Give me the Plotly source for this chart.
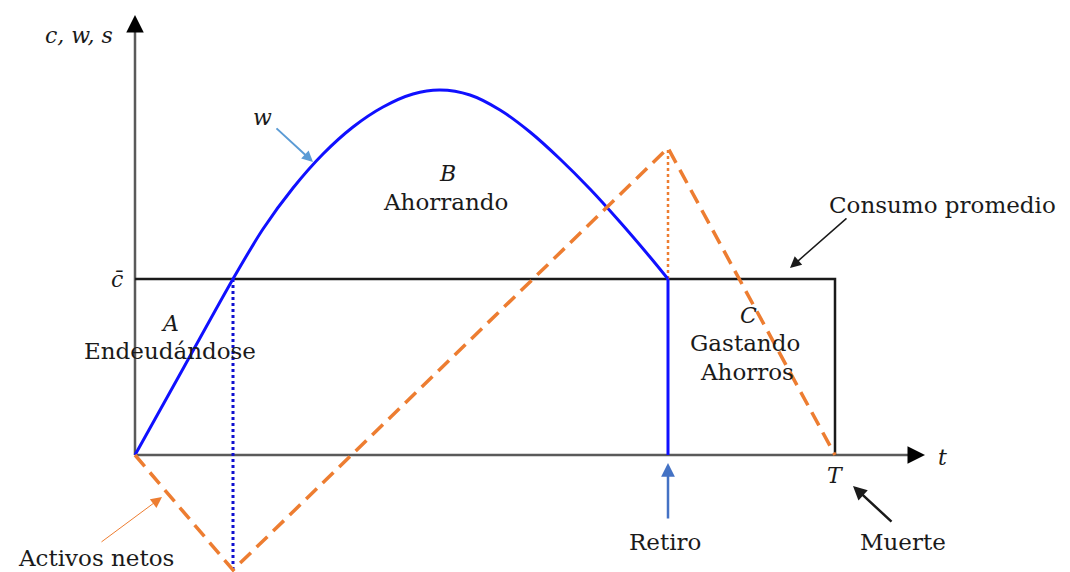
import plotly.graph_objects as go

# ---- data ----
T = 70.0          # death
R = 53.3          # retirement
c_bar = 17.6      # average consumption
t_cross = 9.8     # where w crosses c_bar

w_t = [0, 4.9, 9.8, 12.8, 15.8, 18.8, 21.8, 24.8, 27.8, 30.5,
       33.5, 36.5, 39.5, 42.5, 45.5, 48.5, 51.5, 53.3]
w_vals = [0, 8.8, 17.6, 22.6, 26.7, 30.1, 32.8, 34.8, 36.1, 36.5,
          36.0, 34.5, 32.3, 29.6, 26.6, 23.3, 19.8, 17.6]

assets_t = [0, 9.8, 53.3, 70.0]
assets_vals = [0, -11.5, 30.7, 0]

cons_t = [0, T, T]
cons_vals = [c_bar, c_bar, 0]

y_axis_top = 44.0
x_axis_end = 79.0

SERIF = "DejaVu Serif"
BLUE = "#1010ff"
ORANGE = "#ed7d31"
AXIS = "#5a5a5a"

fig = go.Figure()

# axes lines
fig.add_trace(go.Scatter(x=[0, 0], y=[0, y_axis_top - 1.5], mode="lines",
                         line=dict(color=AXIS, width=2.5), hoverinfo="skip"))
fig.add_trace(go.Scatter(x=[0, x_axis_end - 1.5], y=[0, 0], mode="lines",
                         line=dict(color=AXIS, width=2.5), hoverinfo="skip"))

# consumption
fig.add_trace(go.Scatter(x=cons_t, y=cons_vals, mode="lines",
                         line=dict(color="#1a1a1a", width=2.5), hoverinfo="skip"))

# blue dotted vertical at crossing
fig.add_trace(go.Scatter(x=[t_cross, t_cross], y=[c_bar, min(assets_vals)], mode="lines",
                         line=dict(color="#1010d0", width=3, dash="dot"), hoverinfo="skip"))
# orange dotted vertical at retirement
fig.add_trace(go.Scatter(x=[R, R], y=[c_bar, max(assets_vals)], mode="lines",
                         line=dict(color=ORANGE, width=2.5, dash="dot"), hoverinfo="skip"))
# blue solid vertical at retirement
fig.add_trace(go.Scatter(x=[R, R], y=[c_bar, 0], mode="lines",
                         line=dict(color=BLUE, width=3), hoverinfo="skip"))

# wage curve
fig.add_trace(go.Scatter(x=w_t, y=w_vals, mode="lines",
                         line=dict(color=BLUE, width=3, shape="spline", smoothing=0.9),
                         hoverinfo="skip"))

# net assets
fig.add_trace(go.Scatter(x=assets_t, y=assets_vals, mode="lines",
                         line=dict(color=ORANGE, width=3.5, dash="15px,8px"),
                         hoverinfo="skip"))

ann = []

def arrow(x, y, ax, ay, color, width, size, head=2):
    ann.append(dict(x=x, y=y, ax=ax, ay=ay, xref="x", yref="y", axref="x", ayref="y",
                    text="", showarrow=True, arrowhead=head, arrowsize=size,
                    arrowwidth=width, arrowcolor=color, standoff=0, startstandoff=0))

def label(x, y, text, size=23, italic=False):
    t = f"<i>{text}</i>" if italic else text
    ann.append(dict(x=x, y=y, xref="x", yref="y", text=t, showarrow=False,
                    font=dict(family=SERIF, size=size, color="#1a1a1a"),
                    xanchor="center", yanchor="middle"))

# axis arrow heads
arrow(0, y_axis_top, 0, y_axis_top - 1.6, "black", 2.5, 1.4)
arrow(x_axis_end, 0, x_axis_end - 1.6, 0, "black", 2.5, 1.4)

# pointer arrows
arrow(17.8, 29.3, 14.0, 32.8, "#5b9bd5", 2, 1.1)
arrow(65.5, 18.7, 71.3, 23.8, "#1a1a1a", 1.5, 1.5)
arrow(R, -0.8, R, -6.5, "#4472c4", 2.5, 1.1)
arrow(71.8, -3.1, 75.8, -6.8, "#1a1a1a", 2.5, 1.1)
arrow(2.7, -4.2, -3.5, -8.8, ORANGE, 1, 2.2)

# labels
label(-5.6, 42.0, "c, w, s", size=22, italic=True)
label(12.7, 33.8, "w", size=22, italic=True)
label(31.2, 28.2, "B", size=22, italic=True)
label(31.0, 25.3, "Ahorrando")
label(80.7, 25.0, "Consumo promedio")
label(-1.8, 17.6, "c\u0304", size=22, italic=True)
label(3.5, 13.2, "A", size=22, italic=True)
label(3.5, 10.4, "Endeudándose")
label(61.3, 14.0, "C", size=22, italic=True)
label(61.0, 11.2, "Gastando")
label(61.2, 8.3, "Ahorros")
label(T, -2.0, "T", size=22, italic=True)
label(80.7, -0.2, "t", size=22, italic=True)
label(53.0, -8.7, "Retiro")
label(76.8, -8.7, "Muerte")
label(-3.9, -10.3, "Activos netos")

# the page adds an 8px body margin: ranges are offset so the drawing lands on the reference pixels
fig.update_layout(
    width=1070, height=572,
    margin=dict(l=0, r=0, t=0, b=0),
    paper_bgcolor="white", plot_bgcolor="white",
    showlegend=False,
    xaxis=dict(range=[-12.7, 94.3], visible=False, fixedrange=True),
    yaxis=dict(range=[-12.5, 44.7], visible=False, fixedrange=True),
    annotations=ann,
)

fig.write_html("out.html")
